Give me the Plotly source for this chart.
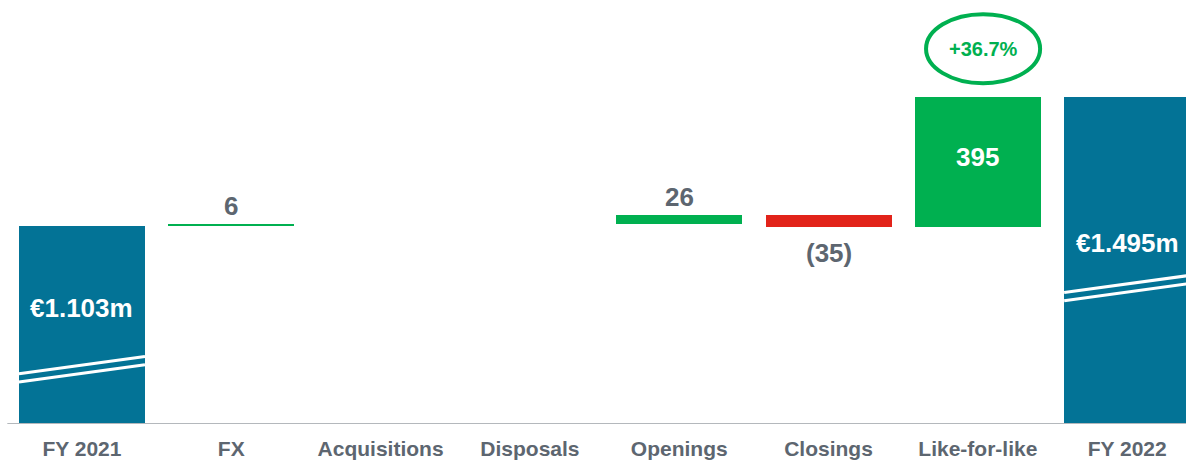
import plotly.graph_objects as go

# ---- data ----
categories = ["FY 2021", "FX", "Acquisitions", "Disposals", "Openings", "Closings", "Like-for-like", "FY 2022"]
values = [1103, 6, 0, 0, 26, -35, 395, 1495]
is_total = [True, False, False, False, False, False, False, True]
value_labels = ["€1.103m", "6", "", "", "26", "(35)", "395", "€1.495m"]
growth_label = "+36.7%"
growth_index = 6

# ---- styles ----
AXIS_FLOOR = 500          # broken axis: bars start at this value
Y_TOP = 1789
BLUE = "#037396"
GREEN = "#00b050"
RED = "#e2231a"
GREY_TXT = "#5d6670"
GREY_LINE = "#b4b8bc"
FONT = "Arial, Liberation Sans, sans-serif"
BAR_W = 0.844
PX_PER_UNIT = 424 / (Y_TOP - AXIS_FLOOR)
total_label_shift = {0: -82, 7: -146}       # px, label position inside totals
break_low = {0: 628, 7: 875}                # value where the axis-break marks start
ELLIPSE_DX = 0.035                          # ellipse sits slightly right of the bar centre

bases, heights, colors = [], [], []
level = 0
for v, tot in zip(values, is_total):
    if tot:
        bases.append(AXIS_FLOOR)
        heights.append(v - AXIS_FLOOR)
        colors.append(BLUE)
        level = v
    else:
        bases.append(min(level, level + v))
        heights.append(abs(v))
        colors.append(GREEN if v >= 0 else RED)
        level += v

fig = go.Figure(go.Bar(
    x=categories, y=heights, base=bases, width=BAR_W,
    marker=dict(color=colors, line=dict(width=0)),
    hoverinfo="skip",
))

annotations = []
shapes = []
for i, (v, tot, lab) in enumerate(zip(values, is_total, value_labels)):
    if not lab:
        continue
    top = bases[i] + heights[i]
    bottom = bases[i]
    if tot:
        annotations.append(dict(x=i, y=top, text=f"<b>{lab}</b>", showarrow=False,
                                yanchor="middle", yshift=total_label_shift[i],
                                font=dict(family=FONT, size=26, color="white")))
    elif heights[i] * PX_PER_UNIT > 40:
        annotations.append(dict(x=i, y=(top + bottom) / 2, text=f"<b>{lab}</b>", showarrow=False,
                                yanchor="middle", yshift=5,
                                font=dict(family=FONT, size=26, color="white")))
    elif v >= 0:
        annotations.append(dict(x=i, y=top, text=f"<b>{lab}</b>", showarrow=False,
                                yanchor="middle", yshift=18,
                                font=dict(family=FONT, size=26, color=GREY_TXT)))
    else:
        annotations.append(dict(x=i, y=bottom, text=f"<b>{lab}</b>", showarrow=False,
                                yanchor="middle", yshift=-26,
                                font=dict(family=FONT, size=26, color=GREY_TXT)))

# axis break marks on the total bars
for i, tot in enumerate(is_total):
    if not tot:
        continue
    y0 = break_low[i]
    for off in (0, 25):
        shapes.append(dict(type="line", xref="x", yref="y",
                           x0=i - BAR_W / 2, x1=i + BAR_W / 2,
                           y0=y0 + off, y1=y0 + off + 52,
                           line=dict(color="white", width=3), layer="above"))

# baseline
shapes.append(dict(type="line", xref="x", yref="y", x0=-0.5, x1=7.6,
                   y0=AXIS_FLOOR, y1=AXIS_FLOOR, line=dict(color=GREY_LINE, width=2), layer="above"))

# growth ellipse
gx = growth_index + ELLIPSE_DX
shapes.append(dict(type="circle", xref="x", yref="y",
                   x0=gx - 0.382, x1=gx + 0.382, y0=1536, y1=1746,
                   line=dict(color=GREEN, width=4)))
annotations.append(dict(x=gx, y=1641, text=f"<b>{growth_label}</b>", showarrow=False,
                        font=dict(family=FONT, size=20, color=GREEN)))

fig.update_layout(
    width=1186, height=460,
    margin=dict(l=0, r=0, t=0, b=36),
    paper_bgcolor="white", plot_bgcolor="white",
    showlegend=False,
    bargap=0,
    xaxis=dict(range=[-0.549, 7.394], showgrid=False, zeroline=False, showline=False,
               automargin=False,
               ticks="", ticklabelstandoff=10,
               tickfont=dict(family=FONT, size=21, color=GREY_TXT),
               tickvals=categories, ticktext=[f"<b>{c}</b>" for c in categories]),
    yaxis=dict(range=[AXIS_FLOOR, Y_TOP], visible=False),
    annotations=annotations,
    shapes=shapes,
)

fig.write_html("out.html", config={"displayModeBar": False},
               post_script="document.body.style.margin='0';")
